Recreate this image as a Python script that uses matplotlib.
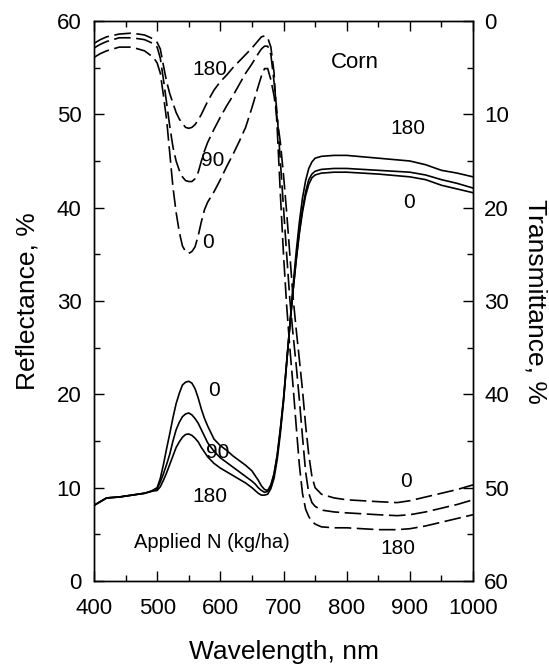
import matplotlib
matplotlib.use("Agg")
import matplotlib.pyplot as plt
from matplotlib.ticker import MultipleLocator

plt.rcParams['font.family'] = ['Liberation Sans', 'DejaVu Sans']

# ---------------- data ----------------
wl_r0 = [400, 410, 420, 440, 460, 480, 490, 500, 505, 510, 515, 520, 525, 530, 535, 540, 545, 550, 555, 560,
         565, 570, 575, 580, 590, 600, 610, 620, 630, 640, 650, 655, 660, 665, 670, 675, 680, 685, 690, 695,
         700, 705, 710, 715, 720, 725, 730, 735, 740, 745, 750, 760, 780, 800, 850, 900, 925, 950, 975, 1000]
refl_0 = [8.1, 8.5, 8.9, 9.0, 9.2, 9.4, 9.6, 10.0, 11.0, 12.5, 14.2, 15.8, 17.5, 19.0, 20.1, 21.0, 21.3, 21.4, 21.2, 20.6,
          19.6, 18.4, 17.4, 16.6, 15.2, 14.5, 14.0, 13.4, 12.9, 12.4, 11.8, 11.3, 10.8, 10.2, 9.8, 9.7, 10.3, 11.5, 13.5, 16.3,
          19.5, 23.5, 27.3, 31.0, 34.3, 37.2, 39.5, 41.3, 42.5, 43.2, 43.5, 43.7, 43.8, 43.8, 43.6, 43.3, 43.0, 42.4, 42.0, 41.6]
refl_90 = [8.1, 8.5, 8.9, 9.0, 9.2, 9.4, 9.6, 9.9, 10.6, 11.5, 12.5, 13.6, 15.0, 16.2, 17.0, 17.6, 17.9, 18.0, 17.8, 17.4,
           16.9, 16.2, 15.5, 14.8, 13.9, 13.2, 12.7, 12.2, 11.7, 11.2, 10.7, 10.4, 10.0, 9.7, 9.5, 9.6, 10.2, 11.4, 13.4, 16.2,
           19.4, 23.4, 27.3, 31.0, 34.4, 37.4, 39.8, 41.7, 43.0, 43.6, 43.9, 44.1, 44.2, 44.2, 44.0, 43.8, 43.5, 43.0, 42.6, 42.1]
refl_180 = [8.1, 8.5, 8.9, 9.0, 9.2, 9.4, 9.6, 9.7, 10.1, 10.8, 11.6, 12.5, 13.4, 14.3, 14.9, 15.4, 15.7, 15.75, 15.6, 15.3,
            14.9, 14.3, 13.8, 13.3, 12.6, 12.1, 11.7, 11.3, 10.9, 10.5, 10.0, 9.7, 9.4, 9.2, 9.2, 9.3, 9.9, 11.0, 13.0, 15.8,
            19.2, 23.3, 27.5, 31.5, 35.2, 38.4, 41.0, 42.9, 44.2, 44.9, 45.3, 45.5, 45.6, 45.6, 45.3, 45.0, 44.6, 44.0, 43.7, 43.3]

wl_t = [400, 410, 420, 440, 460, 480, 490, 495, 500, 505, 510, 515, 520, 525, 530, 535, 540, 545, 550, 555,
        560, 565, 570, 575, 580, 590, 600, 610, 620, 630, 640, 650, 660, 665, 670, 675, 680, 685, 690, 695,
        700, 705, 710, 715, 720, 725, 730, 735, 740, 745, 750, 760, 780, 800, 850, 880, 900, 925, 950, 975, 1000]
trans_0 = [3.9, 3.5, 3.2, 2.8, 2.8, 3.2, 3.7, 4.0, 4.5, 5.6, 8.0, 10.6, 14.2, 17.8, 20.5, 22.6, 24.1, 24.7, 24.9, 24.7,
           24.2, 23.0, 21.5, 20.2, 19.4, 18.3, 17.0, 15.6, 14.3, 12.9, 11.4, 9.3, 7.0, 5.9, 5.1, 5.1, 6.3, 8.0, 10.5, 13.0,
           16.5, 20.5, 25.0, 29.5, 33.0, 36.2, 39.5, 43.3, 46.5, 48.8, 50.0, 50.7, 51.1, 51.3, 51.5, 51.6, 51.4, 51.0, 50.6, 50.2, 49.7]
trans_90 = [2.9, 2.5, 2.2, 1.8, 1.8, 2.0, 2.3, 2.5, 2.8, 4.0, 6.3, 8.8, 11.3, 13.5, 15.0, 16.0, 16.7, 17.1, 17.2, 17.2,
            16.9, 16.2, 15.0, 13.9, 13.0, 11.6, 10.3, 9.1, 8.0, 6.8, 5.6, 4.6, 3.5, 3.0, 2.7, 2.7, 3.6, 6.5, 10.0, 15.0,
            20.0, 25.0, 29.8, 33.5, 36.8, 40.5, 44.5, 48.3, 50.6, 51.6, 52.0, 52.4, 52.6, 52.7, 52.9, 53.0, 52.9, 52.6, 52.2, 51.8, 51.3]
trans_180 = [2.4, 2.0, 1.7, 1.4, 1.3, 1.5, 1.8, 2.0, 2.3, 3.0, 4.8, 6.5, 7.8, 8.8, 9.8, 10.5, 11.0, 11.4, 11.5, 11.4,
             11.1, 10.6, 10.0, 9.3, 8.6, 7.4, 6.5, 5.8, 5.0, 4.3, 3.6, 2.9, 2.1, 1.7, 1.6, 1.8, 2.8, 5.5, 11.5, 18.5,
             25.0, 30.5, 35.0, 39.0, 43.3, 47.5, 50.6, 52.3, 53.1, 53.6, 53.9, 54.2, 54.3, 54.3, 54.5, 54.5, 54.4, 54.1, 53.7, 53.3, 52.9]

x_ticks = [400, 500, 600, 700, 800, 900, 1000]
refl_ticks = [0, 10, 20, 30, 40, 50, 60]
trans_ticks = [0, 10, 20, 30, 40, 50, 60]

# ---------------- figure ----------------
fig = plt.figure(figsize=(5.49, 6.64), dpi=100)
ax = fig.add_axes([0.1712, 0.125, 0.6904, 0.8434])
ax2 = ax.twinx()

lw = 1.2
for y in (refl_0, refl_90, refl_180):
    ax.plot(wl_r0, y, color='black', lw=lw, solid_joinstyle='round')
for y in (trans_0, trans_90, trans_180):
    ax2.plot(wl_t, y, color='black', lw=lw, dashes=(10, 3.3), dash_capstyle='butt')

ax.set_xlim(400, 1000)
ax.set_ylim(0, 60)
ax2.set_ylim(60, 0)

ax.set_xticks(x_ticks)
ax.set_yticks(refl_ticks)
ax2.set_yticks(trans_ticks)
ax.xaxis.set_minor_locator(MultipleLocator(50))
ax.yaxis.set_minor_locator(MultipleLocator(5))
ax2.yaxis.set_minor_locator(MultipleLocator(5))

fs_tick = 16
ax.tick_params(axis='x', which='both', direction='in', top=True, labelsize=fs_tick, pad=12)
ax.tick_params(axis='y', which='both', direction='in', labelsize=fs_tick, pad=9)
ax2.tick_params(axis='y', which='both', direction='in', labelsize=fs_tick, pad=8)
for a in (ax, ax2):
    a.tick_params(which='major', length=7, width=1.0)
    a.tick_params(which='minor', length=4, width=1.0)
    for s in a.spines.values():
        s.set_linewidth(1.0)

ax.set_xlabel('Wavelength, nm', fontsize=19, labelpad=15)
ax.set_ylabel('Reflectance, %', fontsize=19, labelpad=12)
ax2.set_ylabel('Transmittance, %', fontsize=19, rotation=270, labelpad=28)

fs_ann = 15
ax.text(813, 55.6, 'Corn', fontsize=16, ha='center', va='center')
ax.text(583, 54.8, '180', fontsize=fs_ann, ha='center', va='center')
ax.text(588, 45.1, '90', fontsize=fs_ann, ha='center', va='center')
ax.text(581, 36.3, '0', fontsize=fs_ann, ha='center', va='center')
ax.text(897, 48.5, '180', fontsize=fs_ann, ha='center', va='center')
ax.text(898, 40.6, '0', fontsize=fs_ann, ha='center', va='center')
ax.text(590, 20.4, '0', fontsize=fs_ann, ha='center', va='center')
ax.text(596, 13.8, '90', fontsize=fs_ann, ha='center', va='center')
ax.text(583, 9.0, '180', fontsize=fs_ann, ha='center', va='center')
ax.text(587, 4.1, 'Applied N (kg/ha)', fontsize=14.5, ha='center', va='center')
ax.text(894, 10.7, '0', fontsize=fs_ann, ha='center', va='center')
ax.text(881, 3.5, '180', fontsize=fs_ann, ha='center', va='center')

fig.savefig('out.png', dpi=100)
